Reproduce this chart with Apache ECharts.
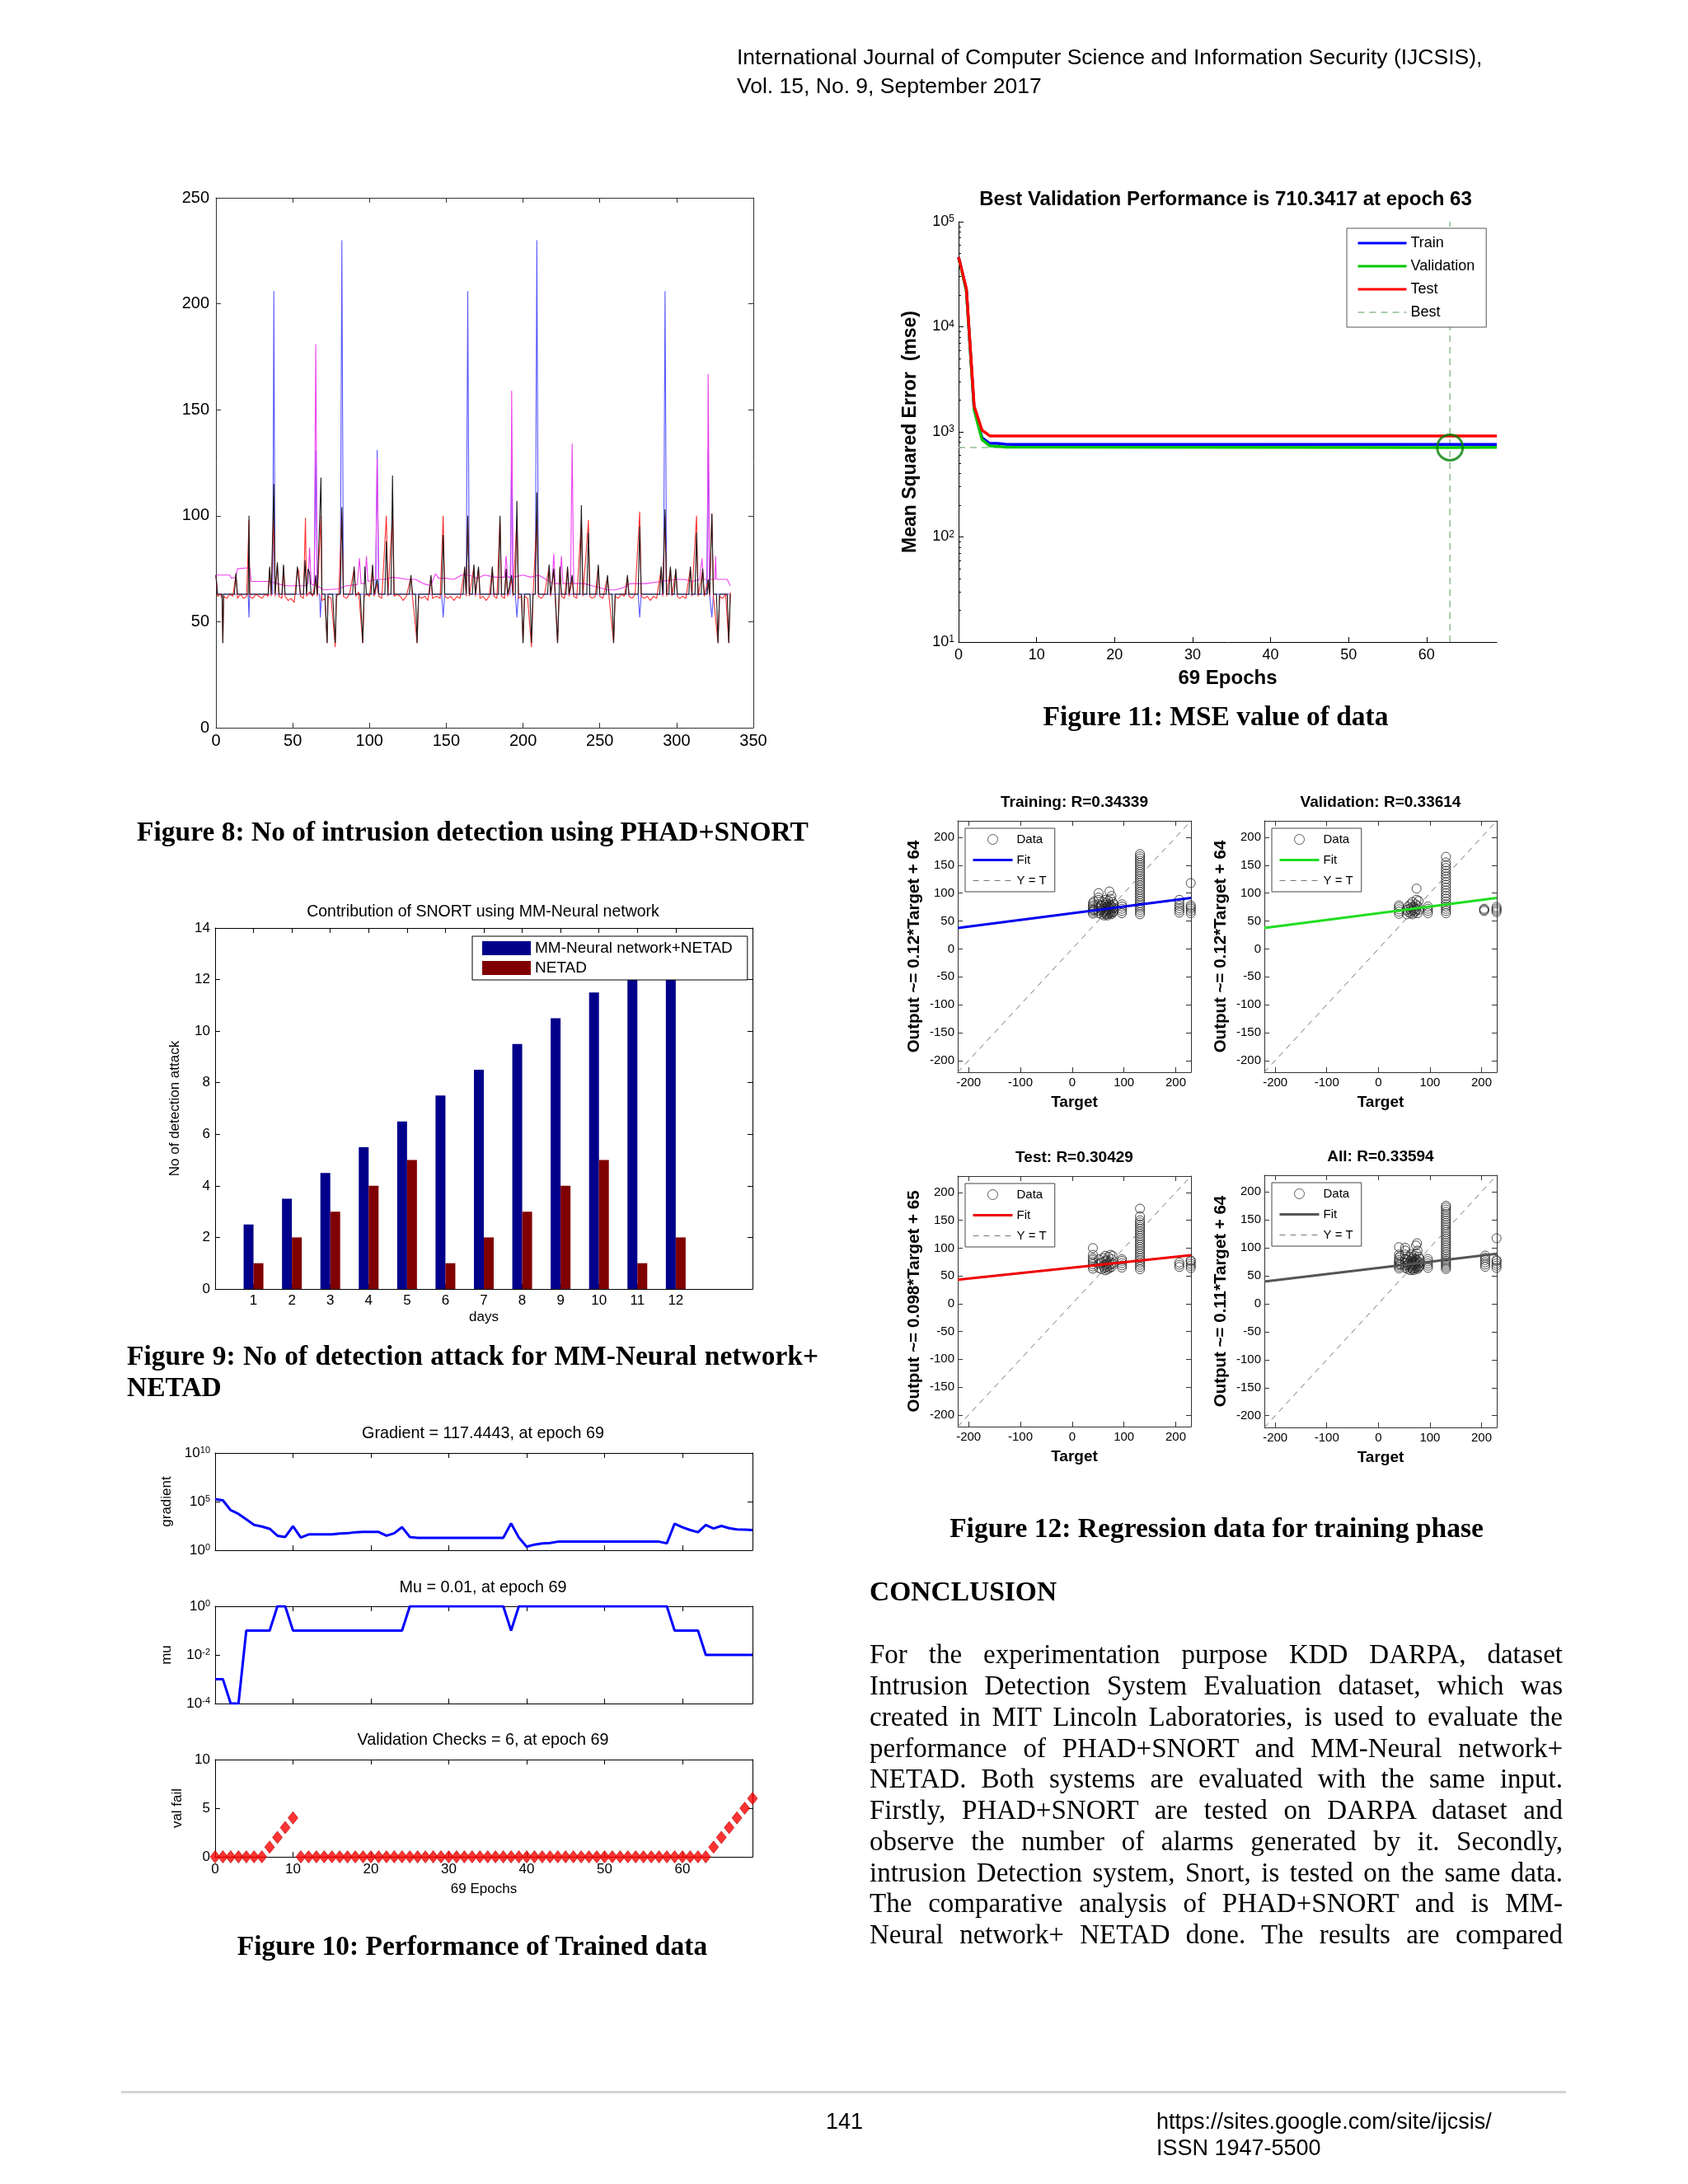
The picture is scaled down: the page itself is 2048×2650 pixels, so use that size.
<!DOCTYPE html>
<html><head><meta charset="utf-8">
<script src="https://cdn.jsdelivr.net/npm/echarts@6/dist/echarts.min.js"></script>
<style>
html,body{margin:0;padding:0;background:#fff;}
#page{position:relative;width:2048px;height:2650px;overflow:hidden;background:#fff;}
#chart{position:absolute;left:0;top:0;width:2048px;height:2650px;}
.t{position:absolute;white-space:nowrap;color:#000;}
.sans{font-family:"Liberation Sans",Arial,sans-serif;}
.serif{font-family:"Liberation Serif","Times New Roman",serif;}
.cap{font-weight:bold;font-size:33.5px;line-height:38px;}
.pl{font-size:33px;line-height:38px;width:841px;text-align:justify;text-align-last:justify;}
</style></head>
<body><div id="page"><div id="chart"></div>
<div class="t sans" style="left:894px;top:52px;font-size:26.5px;line-height:35px;">International Journal of Computer Science and Information Security (IJCSIS),<br>Vol. 15, No. 9, September 2017</div>
<div class="t serif cap" style="left:166px;top:990px;width:806px;text-align:center;">Figure 8: No of intrusion detection using PHAD+SNORT</div>
<div class="t serif cap" style="left:154px;top:1626px;width:839px;text-align:justify;text-align-last:justify;">Figure 9: No of detection attack for MM-Neural network+</div>
<div class="t serif cap" style="left:154px;top:1664px;">NETAD</div>
<div class="t serif cap" style="left:173px;top:2342px;width:800px;text-align:center;">Figure 10: Performance of Trained data</div>
<div class="t serif cap" style="left:1075px;top:850px;width:800px;text-align:center;">Figure 11: MSE value of data</div>
<div class="t serif cap" style="left:1076px;top:1835px;width:800px;text-align:center;">Figure 12: Regression data for training phase</div>
<div class="t serif cap" style="left:1055px;top:1912px;">CONCLUSION</div>
<div class="t serif pl" style="left:1055px;top:1988px;">For the experimentation purpose KDD DARPA, dataset</div>
<div class="t serif pl" style="left:1055px;top:2026px;">Intrusion Detection System Evaluation dataset, which was</div>
<div class="t serif pl" style="left:1055px;top:2064px;">created in MIT Lincoln Laboratories, is used to evaluate the</div>
<div class="t serif pl" style="left:1055px;top:2102px;">performance of PHAD+SNORT and MM-Neural network+</div>
<div class="t serif pl" style="left:1055px;top:2139px;">NETAD. Both systems are evaluated with the same input.</div>
<div class="t serif pl" style="left:1055px;top:2177px;">Firstly, PHAD+SNORT are tested on DARPA dataset and</div>
<div class="t serif pl" style="left:1055px;top:2215px;">observe the number of alarms generated by it. Secondly,</div>
<div class="t serif pl" style="left:1055px;top:2253px;">intrusion Detection system, Snort, is tested on the same data.</div>
<div class="t serif pl" style="left:1055px;top:2290px;">The comparative analysis of PHAD+SNORT and is MM-</div>
<div class="t serif pl" style="left:1055px;top:2328px;">Neural network+ NETAD done. The results are compared</div>
<div style="position:absolute;left:147px;top:2537px;width:1753px;height:3px;background:#d4d4d4;"></div>
<div class="t sans" style="left:1002px;top:2558px;font-size:27px;line-height:32px;">141</div>
<div class="t sans" style="left:1403px;top:2558px;font-size:27px;line-height:32px;">https://sites.google.com/site/ijcsis/<br>ISSN 1947-5500</div>
</div>
<script>
// ================= DATA =================
// Figure 8 : [x, value] at the visible turning points of each trace
const fig8Black = [[0,72],[1,63],[4,63],[4.5,40],[5,63],[12,63],[13,73],[14,63],[21,63],[21.5,100],[22,63],[34,63],[35,76],[36,63],[37,63],[37.7,115],[38.5,63],[40,78],[41,63],[43,63],[44,77],[45,63],[52,63],[53,76],[54,76],[55,63],[57,63],[58,79],[59,63],[60,75],[61,73],[62,63],[64,63],[65,72],[66,63],[67,63],[68.4,118],[69,63],[71,63],[72.4,40],[73,63],[76,63],[77.7,40],[78.5,63],[81,63],[82,104],[83,63],[89,63],[90,76],[91,63],[94,63],[95.6,40],[96.5,63],[97,76],[98,63],[101,63],[102,77],[103,63],[104,63],[105,70],[106,63],[110,63],[111,88],[112,63],[114,63],[115,119],[116,63],[126,63],[127,72],[128,63],[130,63],[131,40],[132,63],[139,63],[140,72],[141,63],[147,63],[148,91],[149,63],[161,63],[162,76],[163,63],[164,100],[165,63],[167,63],[168,77],[169,63],[170,63],[171,76],[172,63],[179,63],[180,76],[181,63],[184,63],[185,100],[186,63],[188,63],[189,75],[190,63],[191,63],[192.6,72],[193.5,63],[195,63],[196,107],[197,63],[199,63],[200,40],[201,63],[204.5,63],[205.5,40],[206.5,63],[208,63],[209,111],[210,63],[216,63],[217,77],[218,63],[219,63],[220,75],[221,63],[222.5,40],[223.5,63],[224,76],[225,63],[228,63],[229,76],[230,63],[231,63],[232,72],[233,63],[237,63],[238,105],[239,63],[241.5,63],[242.6,92],[243.5,63],[248,63],[249,77],[250,63],[254,63],[255,72],[256,63],[258,63],[259,40],[260,63],[267,63],[268,72],[269,63],[275,63],[276,95],[277,63],[289,63],[290,76],[291,63],[292.5,103],[293.5,63],[295,63],[296,76],[297,63],[298.5,63],[299.5,75],[300.5,63],[308,63],[309,76],[310,63],[312,63],[313,92],[314,63],[316,63],[317,75],[318,63],[320,63],[320.6,70],[321.5,63],[323,101],[324,63],[326,63],[327,40],[328,63],[333,63],[334,40],[335,63]];
const fig8Blue = [[0,72],[1,63],[21,63],[21.5,52],[22,63],[37,63],[37.7,206],[38.5,63],[64,63],[65,131],[66,63],[67.5,63],[68,52],[68.8,63],[81,63],[82,230],[83,63],[104,63],[105,131],[106,63],[147,63],[148,52],[149,63],[163,63],[164,206],[165,63],[191.6,63],[192.6,131],[193.5,63],[195,63],[196,52],[197,63],[208,63],[209,230],[210,63],[275,63],[276,52],[277,63],[291.5,63],[292.5,206],[293.5,63],[319.6,63],[320.6,131],[321.5,63],[322,63],[323,52],[324,63],[335,63]];
const fig8Red = [[0,72],[1,62],[3,63],[4,61],[4.5,40],[5,62],[7,61],[9,63],[11,62],[13,72],[14,61],[16,63],[18,61],[20,62],[21.5,98],[22,62],[24,61],[26,63],[28,62],[30,61],[32,63],[34,62],[35,75],[36,62],[37.7,101],[38.5,62],[40,77],[41,62],[43,61],[44,76],[45,62],[47,60],[49,61],[51,59],[53,75],[54,74],[55,62],[57,61],[58.3,99],[59,62],[61,64],[63,62],[65,70],[66,62],[68.4,100],[69,60],[71,61],[72.4,40],[73,62],[75,61],[77.7,38],[78.5,62],[80,63],[82,101],[83,62],[85,61],[87,63],[90,75],[91,62],[93,64],[95.6,40],[96.5,62],[98,63],[100,62],[102,76],[103,62],[105,68],[106,62],[108,61],[111,100],[112,62],[115,101],[116,62],[118,63],[120,62],[122,60],[124,62],[127,71],[128,62],[131,40],[132,62],[134,61],[136,62],[138,60],[140,71],[141,61],[144,62],[146,61],[148,100],[149,62],[151,61],[153,62],[155,60],[157,62],[159,61],[162,75],[163,62],[164,99],[165,62],[168,76],[169,62],[171,75],[172,61],[174,62],[176,60],[178,62],[180,75],[181,62],[183,61],[185,99],[186,62],[188,61],[189,74],[190,62],[192.6,70],[193.5,62],[196,99],[197,61],[199,62],[200,40],[201,62],[203,61],[205.5,38],[206.5,62],[209,100],[210,62],[212,61],[214,63],[217,76],[218,62],[220,74],[221,61],[222.5,40],[223.5,62],[224,75],[225,62],[227,61],[229,75],[230,62],[232,70],[233,62],[235,61],[238,98],[239,62],[242.6,98],[243.5,62],[245,61],[247,62],[249,76],[250,62],[252,61],[255,71],[256,62],[259,40],[260,62],[262,61],[264,63],[266,62],[268,71],[269,62],[271,61],[273,63],[276,102],[277,62],[279,61],[281,62],[283,60],[285,62],[287,61],[290,75],[291,62],[292.5,100],[293.5,62],[296,75],[297,62],[299.5,74],[300.5,62],[302,61],[304,62],[306,61],[309,75],[310,62],[313,100],[314,62],[317,74],[318,62],[320.6,70],[321.5,62],[323,101],[324,62],[327,40],[328,62],[330,61],[332,63],[334,40],[335,64]];
const fig8Magenta = [[0,72],[9,72],[10,70.5],[13,71],[14,75],[22,75.5],[23,69],[35,69],[40,68],[45,67],[58,67],[60,68],[61,85],[62,68],[64,67],[65,181],[66,67],[68,66],[70,65],[80,65.5],[85,67],[92,67.5],[93.5,80],[94.5,68],[97,68],[98,81],[99,69],[104,70],[105,127],[106,70],[110,70],[115,71],[125,70],[130,70],[135,68],[140,67],[143,72.7],[145,70.5],[150,70.5],[155,70],[160,72],[165,72],[170,70.5],[175,72],[182,71],[188,71],[189,81],[190,71],[192,71],[192.6,159],[193.5,71],[200,72],[205,71],[210,72],[215,70],[219,68],[220,82],[221,68],[224,68],[225,81],[226,68],[231,68],[232,134],[233,68],[240,68],[245,67],[250,66],[255,65],[260,65],[265,66],[270,68],[280,68],[290,69],[300,70],[305,70],[310,69],[315,70],[316.6,80],[317.5,70],[320,70],[320.6,167],[321.5,70],[325,70],[325.4,81],[326,70],[333,70],[335,67]];

// Figure 9
const fig9Days = ['1','2','3','4','5','6','7','8','9','10','11','12'];
const fig9Combined = [2.5,3.5,4.5,5.5,6.5,7.5,8.5,9.5,10.5,11.5,12.5,13.5];
const fig9Netad = [1,2,3,4,5,1,2,3,4,5,1,2];

// Figure 10 (epochs 0..69)
const fig10Gradient = [180000,135000,13000,5400,1500,400,275,160,31,23,295,20,42,42,42,42,52,56,71,76,76,76,31,56,234,23,19,19,19,19,19,19,19,19,19,19,19,19,575,20,2.3,3.8,5.1,5.6,7.6,7.6,7.6,7.6,7.6,7.6,7.6,7.6,7.6,7.6,7.6,7.6,7.6,7.6,5.1,537,234,120,71,400,174,316,186,138,129,117.4443];
const fig10Mu = [0.001,0.001,0.0001,0.0001,0.1,0.1,0.1,0.1,1,1,0.1,0.1,0.1,0.1,0.1,0.1,0.1,0.1,0.1,0.1,0.1,0.1,0.1,0.1,0.1,1,1,1,1,1,1,1,1,1,1,1,1,1,0.1,1,1,1,1,1,1,1,1,1,1,1,1,1,1,1,1,1,1,1,1,0.1,0.1,0.1,0.1,0.01,0.01,0.01,0.01,0.01,0.01,0.01];
const fig10ValFail = [0,0,0,0,0,0,0,1,2,3,4,0,0,0,0,0,0,0,0,0,0,0,0,0,0,0,0,0,0,0,0,0,0,0,0,0,0,0,0,0,0,0,0,0,0,0,0,0,0,0,0,0,0,0,0,0,0,0,0,0,0,0,0,0,1,2,3,4,5,6];

// Figure 11 : [epoch, mse]
const fig11Train = [[0,46000],[1,22500],[2,1650],[3,880],[4,775],[5,775],[6,762],[7,758],[69,758]];
const fig11Validation = [[0,45500],[1,22000],[2,1620],[3,845],[4,735],[5,730],[6,715],[63,710.3417],[69,712]];
const fig11Test = [[0,46100],[1,23000],[2,1760],[3,1040],[4,915],[69,915]];
const fig11BestH = [[0,710.3417],[63,710.3417]];
const fig11BestV = [[63,10],[63,100000]];
const fig11BestPoint = [[63,710.3417]];
const fig11MinorTicks = [20,30,40,50,60,70,80,90,200,300,400,500,600,700,800,900,2000,3000,4000,5000,6000,7000,8000,9000,20000,30000,40000,50000,60000,70000,80000,90000];

// Figure 12 : [target, output]
const fig12XTicks = [-200,-100,0,100,200];
const fig12YTicks = [-200,-150,-100,-50,0,50,100,150,200];
const fig12Diagonal = [[-221,-221],[229.5,229.5]];
const fig12TrainFit = [[-221,37.5],[229.5,91.5]];
const fig12ValFit = [[-221,37.5],[229.5,91.5]];
const fig12TestFit = [[-221,43.3],[229.5,87.4]];
const fig12AllFit = [[-221,39.7],[229.5,89.2]];
const fig12TrainPts = [[40,63],[40,66],[40,69],[40,72],[40,75],[40,78],[40,82],[42,70],[42,85],[51,64],[51,68],[51,74],[51,80],[51,88],[51,92],[51,100],[57,62],[57,70],[57,78],[60,65],[60,72],[60,84],[62,60],[62,68],[62,76],[64,64],[64,71],[64,79],[64,88],[66,62],[66,67],[66,74],[66,82],[68,60],[68,70],[68,77],[70,63],[70,69],[70,75],[70,86],[72,66],[72,73],[72,80],[72,103],[74,64],[74,71],[74,78],[74,90],[76,62],[76,68],[76,76],[76,95],[78,65],[78,72],[78,84],[80,67],[80,74],[80,80],[96,64],[96,68],[96,72],[96,76],[96,80],[131,62],[131,66],[131,70],[131,74],[131,78],[131,82],[131,86],[131,90],[131,94],[131,98],[131,102],[131,106],[131,110],[131,114],[131,118],[131,122],[131,126],[131,130],[131,134],[131,138],[131,142],[131,146],[131,150],[131,154],[131,158],[131,162],[131,166],[131,170],[207,65],[207,69],[207,73],[207,77],[207,82],[207,88],[229,64],[229,68],[229,72],[229,75],[229,78],[229,118]];
const fig12ValPts = [[40,63],[40,67],[40,71],[40,75],[40,78],[55,62],[55,70],[58,66],[58,76],[60,72],[62,64],[62,80],[64,68],[64,74],[66,62],[66,84],[68,70],[68,76],[70,65],[70,73],[72,68],[72,80],[74,71],[74,88],[74,108],[76,64],[76,77],[78,70],[78,86],[96,64],[96,68],[96,72],[96,76],[131,64],[131,68],[131,72],[131,76],[131,80],[131,85],[131,90],[131,95],[131,100],[131,105],[131,110],[131,115],[131,120],[131,125],[131,130],[131,135],[131,140],[131,145],[131,150],[131,155],[131,165],[205,68],[205,70],[205,72],[229,66],[229,69],[229,72],[229,75]];
const fig12TestPts = [[40,63],[40,67],[40,71],[40,75],[40,79],[40,82],[40,88],[40,100],[52,64],[52,72],[52,80],[57,62],[57,74],[60,68],[60,82],[62,64],[62,76],[64,60],[64,70],[64,86],[66,66],[66,78],[68,62],[68,72],[70,68],[70,84],[72,64],[72,76],[74,70],[74,88],[76,66],[76,80],[78,72],[78,86],[96,65],[96,69],[96,73],[96,77],[96,80],[131,62],[131,66],[131,70],[131,74],[131,78],[131,82],[131,86],[131,90],[131,94],[131,98],[131,102],[131,106],[131,110],[131,114],[131,118],[131,122],[131,126],[131,130],[131,134],[131,138],[131,142],[131,146],[131,150],[131,157],[131,171],[207,66],[207,70],[207,74],[229,64],[229,68],[229,72],[229,76],[229,78]];
const fig12AllPts = [[40,63],[40,66],[40,69],[40,72],[40,75],[40,78],[40,82],[40,88],[40,101],[42,70],[42,85],[52,64],[52,68],[52,74],[52,80],[52,88],[52,95],[52,100],[57,62],[57,70],[57,78],[60,65],[60,72],[60,84],[62,60],[62,68],[62,76],[64,64],[64,71],[64,79],[64,88],[66,62],[66,67],[66,74],[66,82],[68,60],[68,70],[68,77],[70,63],[70,69],[70,75],[70,86],[72,66],[72,73],[72,80],[73,104],[74,64],[74,71],[74,78],[74,90],[75,108],[76,62],[76,68],[76,76],[76,95],[78,65],[78,72],[78,84],[80,67],[80,74],[80,80],[96,64],[96,68],[96,72],[96,76],[96,80],[131,62],[131,65],[131,68],[131,71],[131,74],[131,77],[131,80],[131,84],[131,88],[131,92],[131,96],[131,100],[131,104],[131,108],[131,112],[131,116],[131,120],[131,124],[131,128],[131,132],[131,136],[131,140],[131,144],[131,148],[131,152],[131,156],[131,160],[131,164],[131,168],[131,172],[131,175],[207,66],[207,70],[207,74],[207,78],[207,82],[207,86],[229,64],[229,68],[229,72],[229,76],[229,78],[229,117]];

// ================= BUILD =================
const FONT = '"Liberation Sans", Arial, sans-serif';
const grids = [], xAxes = [], yAxes = [], series = [], legends = [], graphics = [];

function addGrid(l, t, w, h) { grids.push({ left: l, top: t, width: w, height: h, containLabel: false, outerBoundsMode: 'none', show: false }); return grids.length - 1; }
function mkAxis(o) {
  const lc = o.lineColor || '#000';
  const ax = {
    type: o.type || 'value', gridIndex: o.gi, position: o.pos,
    min: o.min, max: o.max,
    axisLine: { show: o.line !== false, onZero: false, lineStyle: { color: lc, width: 1 } },
    axisTick: { show: true, inside: true, length: o.tickLen || 6, lineStyle: { color: lc, width: 1 } },
    axisLabel: { show: !!o.labels, fontFamily: FONT, fontSize: o.fs || 15, color: '#000', margin: (o.margin != null ? o.margin : 6) },
    splitLine: { show: false }, minorTick: { show: false }, minorSplitLine: { show: false },
    name: o.name || '', nameLocation: 'middle', nameGap: o.nameGap || 30,
    nameTextStyle: { fontFamily: FONT, fontSize: o.nameFs || 16, fontWeight: o.nameWeight || 'normal', color: '#000' },
    silent: true
  };
  if (o.formatter) ax.axisLabel.formatter = o.formatter;
  if (o.rich) ax.axisLabel.rich = o.rich;
  if (o.showMax === false) ax.axisLabel.showMaxLabel = false;
  if (o.interval != null) ax.interval = o.interval;
  if (o.custom) { ax.axisTick.customValues = o.custom; ax.axisLabel.customValues = o.custom; }
  if (o.data) { ax.data = o.data; ax.boundaryGap = false; }
  if (o.catInterval) { ax.axisTick.interval = o.catInterval; ax.axisLabel.interval = o.catInterval; }
  return ax;
}
function addX(o) { xAxes.push(mkAxis(o)); return xAxes.length - 1; }
function addY(o) { yAxes.push(mkAxis(o)); return yAxes.length - 1; }
function addText(text, x, y, fs, weight) {
  graphics.push({ type: 'text', x: x, y: y, silent: true, z: 50,
    style: { text: text, fontFamily: FONT, fontSize: fs, fontWeight: weight || 'normal', fill: '#000', align: 'center', verticalAlign: 'middle', textAlign: 'center', textVerticalAlign: 'middle' } });
}
function supFmt(base, sup) {
  return {
    formatter: function (v) { const e = Math.round(Math.log10(v)); return '{b|10}{s|' + e + '}'; },
    rich: {
      b: { fontFamily: FONT, fontSize: base, color: '#000', lineHeight: base, verticalAlign: 'bottom' },
      s: { fontFamily: FONT, fontSize: sup, color: '#000', lineHeight: sup, verticalAlign: 'top', padding: [0, 0, base - 4, 0] }
    }
  };
}
const lineBase = { type: 'line', showSymbol: false, symbol: 'none', silent: true, animation: false };
const noSym = function (name, w) { return { name: name, itemStyle: { opacity: 0 }, lineStyle: { width: w || 1 } }; };

// ---------- Figure 8 ----------
{
  const gi = addGrid(262, 240, 652, 643);
  const lc = '#333';
  const xi = addX({ gi, pos: 'bottom', min: 0, max: 350, interval: 50, labels: true, fs: 20, margin: 6, lineColor: lc });
  addX({ gi, pos: 'top', min: 0, max: 350, interval: 50, lineColor: lc });
  const yi = addY({ gi, pos: 'left', min: 0, max: 250, interval: 50, labels: true, fs: 20, margin: 8, lineColor: lc });
  addY({ gi, pos: 'right', min: 0, max: 250, interval: 50, lineColor: lc });
  series.push(Object.assign({}, lineBase, { xAxisIndex: xi, yAxisIndex: yi, data: fig8Blue, lineStyle: { color: '#5858ff', width: 1.1 } }));
  series.push(Object.assign({}, lineBase, { xAxisIndex: xi, yAxisIndex: yi, data: fig8Magenta, lineStyle: { color: '#f040f0', width: 1.1 } }));
  series.push(Object.assign({}, lineBase, { xAxisIndex: xi, yAxisIndex: yi, data: fig8Red, lineStyle: { color: '#ff3030', width: 1.1 } }));
  series.push(Object.assign({}, lineBase, { xAxisIndex: xi, yAxisIndex: yi, data: fig8Black, lineStyle: { color: '#1a1a1a', width: 1.1 } }));
}

// ---------- Figure 9 ----------
{
  const gi = addGrid(261, 1126, 652, 438);
  const cats = ['0'].concat(fig9Days, ['13', '14']);
  const show = function (i) { return i >= 1 && i <= 12; };
  const xi = addX({ gi, type: 'category', pos: 'bottom', data: cats, catInterval: show, labels: true, fs: 17, margin: 6, name: 'days', nameGap: 26, nameFs: 17 });
  addX({ gi, type: 'category', pos: 'top', data: cats, catInterval: show });
  const yi = addY({ gi, pos: 'left', min: 0, max: 14, interval: 2, labels: true, fs: 17, margin: 6, name: 'No of detection attack', nameGap: 40, nameFs: 17 });
  addY({ gi, pos: 'right', min: 0, max: 14, interval: 2 });
  series.push({ type: 'bar', name: 'MM-Neural network+NETAD', xAxisIndex: xi, yAxisIndex: yi, data: [null].concat(fig9Combined, [null, null]), barWidth: 12, barGap: '0%', itemStyle: { color: '#00008b' }, silent: true, animation: false });
  series.push({ type: 'bar', name: 'NETAD', xAxisIndex: xi, yAxisIndex: yi, data: [null].concat(fig9Netad, [null, null]), barWidth: 12, barGap: '0%', itemStyle: { color: '#800000' }, silent: true, animation: false });
  legends.push({ left: 573, top: 1136, orient: 'vertical', icon: 'rect', itemWidth: 59, itemHeight: 17, itemGap: 5, padding: [5, 18, 5, 12], borderColor: '#000', borderWidth: 1, backgroundColor: '#fff', selectedMode: false, z: 20,
    textStyle: { fontFamily: FONT, fontSize: 19, color: '#000' }, data: ['MM-Neural network+NETAD', 'NETAD'] });
  addText('Contribution of SNORT using MM-Neural network', 586, 1107, 19.5);
}

// ---------- Figure 10 ----------
{
  const epochs = fig10Gradient.map(function (_, i) { return i; });
  const sf1 = supFmt(17, 11);
  // gradient
  let gi = addGrid(261, 1763, 652, 118);
  let xi = addX({ gi, pos: 'bottom', min: 0, max: 69, interval: 10 });
  addX({ gi, pos: 'top', min: 0, max: 69, interval: 10 });
  let yi = addY({ gi, type: 'log', pos: 'left', min: 1, max: 1e10, interval: 5, labels: true, margin: 6, formatter: sf1.formatter, rich: sf1.rich, name: 'gradient', nameGap: 50, nameFs: 17 });
  addY({ gi, type: 'log', pos: 'right', min: 1, max: 1e10, interval: 5 });
  series.push(Object.assign({}, lineBase, { xAxisIndex: xi, yAxisIndex: yi, data: epochs.map(function (e) { return [e, fig10Gradient[e]]; }), lineStyle: { color: '#0000ff', width: 3 } }));
  addText('Gradient = 117.4443, at epoch 69', 586, 1740, 19.8);
  // mu
  gi = addGrid(261, 1949, 652, 118);
  xi = addX({ gi, pos: 'bottom', min: 0, max: 69, interval: 10 });
  addX({ gi, pos: 'top', min: 0, max: 69, interval: 10 });
  yi = addY({ gi, type: 'log', pos: 'left', min: 0.0001, max: 1, interval: 2, labels: true, margin: 6, formatter: sf1.formatter, rich: sf1.rich, name: 'mu', nameGap: 50, nameFs: 17 });
  addY({ gi, type: 'log', pos: 'right', min: 0.0001, max: 1, interval: 2 });
  series.push(Object.assign({}, lineBase, { xAxisIndex: xi, yAxisIndex: yi, data: epochs.map(function (e) { return [e, fig10Mu[e]]; }), lineStyle: { color: '#0000ff', width: 3 } }));
  addText('Mu = 0.01, at epoch 69', 586, 1927, 19.8);
  // validation checks
  gi = addGrid(261, 2135, 652, 118);
  xi = addX({ gi, pos: 'bottom', min: 0, max: 69, interval: 10, labels: true, fs: 17, margin: 7, showMax: false, name: '69 Epochs', nameGap: 31, nameFs: 17 });
  addX({ gi, pos: 'top', min: 0, max: 69, interval: 10 });
  yi = addY({ gi, pos: 'left', min: 0, max: 10, interval: 5, labels: true, fs: 17, margin: 6, name: 'val fail', nameGap: 37, nameFs: 17 });
  addY({ gi, pos: 'right', min: 0, max: 10, interval: 5 });
  series.push({ type: 'scatter', xAxisIndex: xi, yAxisIndex: yi, data: epochs.map(function (e) { return [e, fig10ValFail[e]]; }), symbol: 'diamond', symbolSize: [12, 15], itemStyle: { color: '#ff0000', borderColor: '#b00000', borderWidth: 0.8 }, silent: true, animation: false, clip: false });
  addText('Validation Checks = 6, at epoch 69', 586, 2112, 19.8);
}

// ---------- Figure 11 ----------
{
  const gi = addGrid(1163, 269, 653, 510);
  const sf = supFmt(18, 12);
  const xi = addX({ gi, pos: 'bottom', min: 0, max: 69, interval: 10, labels: true, fs: 18, margin: 7, showMax: false, name: '69 Epochs', nameGap: 32, nameFs: 24, nameWeight: 'bold' });
  const yi = addY({ gi, type: 'log', pos: 'left', min: 10, max: 100000, interval: 1, labels: true, margin: 5, formatter: sf.formatter, rich: sf.rich, name: 'Mean Squared Error  (mse)', nameGap: 47, nameFs: 23, nameWeight: 'bold' });
  // minor log ticks (no line, no labels)
  addY({ gi, type: 'log', pos: 'left', min: 10, max: 100000, custom: fig11MinorTicks, tickLen: 3, line: false });
  const dash = { color: '#8fbf8f', width: 1.5, type: [8, 6] };
  series.push(Object.assign({}, lineBase, { name: 'Best', xAxisIndex: xi, yAxisIndex: yi, data: fig11BestH, lineStyle: dash }));
  series.push(Object.assign({}, lineBase, { name: 'Best', xAxisIndex: xi, yAxisIndex: yi, data: fig11BestV, lineStyle: dash }));
  series.push(Object.assign({}, lineBase, { name: 'Train', xAxisIndex: xi, yAxisIndex: yi, data: fig11Train, lineStyle: { color: '#0000ff', width: 3.5 } }));
  series.push(Object.assign({}, lineBase, { name: 'Validation', xAxisIndex: xi, yAxisIndex: yi, data: fig11Validation, lineStyle: { color: '#00c800', width: 3.5 } }));
  series.push(Object.assign({}, lineBase, { name: 'Test', xAxisIndex: xi, yAxisIndex: yi, data: fig11Test, lineStyle: { color: '#ff0000', width: 3.5 } }));
  series.push({ type: 'scatter', xAxisIndex: xi, yAxisIndex: yi, data: fig11BestPoint, symbol: 'circle', symbolSize: 31, itemStyle: { color: 'rgba(0,0,0,0)', borderColor: '#008000', borderWidth: 3 }, silent: true, animation: false, clip: false, z: 5 });
  legends.push({ left: 1634, top: 277, orient: 'vertical', itemWidth: 59, itemHeight: 14, itemGap: 10, padding: [9, 14, 9, 12], borderColor: '#555', borderWidth: 1, backgroundColor: '#fff', selectedMode: false, z: 20,
    textStyle: { fontFamily: FONT, fontSize: 18, color: '#000' }, data: [noSym('Train', 3), noSym('Validation', 3), noSym('Test', 3), noSym('Best', 1.5)] });
  addText('Best Validation Performance is 710.3417 at epoch 63', 1487, 242, 24, 'bold');
}

// ---------- Figure 12 ----------
function regPanel(p) {
  const gi = addGrid(p.left, p.top, p.w, p.h);
  const lc = '#333';
  const xi = addX({ gi, pos: 'bottom', min: -221, max: 229.5, custom: fig12XTicks, labels: true, fs: 15, margin: 5, name: 'Target', nameGap: 27, nameFs: 19, nameWeight: 'bold', lineColor: lc });
  addX({ gi, pos: 'top', min: -221, max: 229.5, custom: fig12XTicks, lineColor: lc });
  const yi = addY({ gi, pos: 'left', min: -221, max: 229.5, custom: fig12YTicks, labels: true, fs: 15, margin: 4, name: p.yName, nameGap: 42, nameFs: 20.5, nameWeight: 'bold', lineColor: lc });
  addY({ gi, pos: 'right', min: -221, max: 229.5, custom: fig12YTicks, lineColor: lc });
  series.push(Object.assign({}, lineBase, { name: 'Y = T' + p.k, xAxisIndex: xi, yAxisIndex: yi, data: fig12Diagonal, lineStyle: { color: '#777', width: 1, type: [7, 6] } }));
  series.push({ type: 'scatter', name: 'Data' + p.k, xAxisIndex: xi, yAxisIndex: yi, data: p.pts, symbol: 'circle', symbolSize: 11, itemStyle: { color: 'rgba(255,255,255,0)', borderColor: '#222', borderWidth: 1 }, silent: true, animation: false });
  series.push(Object.assign({}, lineBase, { name: 'Fit' + p.k, xAxisIndex: xi, yAxisIndex: yi, data: p.fit, lineStyle: { color: p.color, width: 3 } }));
  legends.push({ left: p.left + 9, top: p.top + 9, orient: 'vertical', itemWidth: 48, itemHeight: 12, itemGap: 10, padding: [6, 10, 6, 8], borderColor: '#444', borderWidth: 1, backgroundColor: '#fff', selectedMode: false, z: 20,
    textStyle: { fontFamily: FONT, fontSize: 15, color: '#000' },
    formatter: function (n) { return n.replace(/[1-4]$/, ''); },
    data: [{ name: 'Data' + p.k, icon: 'circle', itemStyle: { color: 'rgba(255,255,255,0)', borderColor: '#333', borderWidth: 1 } }, noSym('Fit' + p.k, 3), noSym('Y = T' + p.k, 1)] });
  addText(p.title, p.left + p.w / 2, p.top - 22, 19, 'bold');
}
regPanel({ k: 1, left: 1162, top: 996, w: 283, h: 305, pts: fig12TrainPts, fit: fig12TrainFit, color: '#0000ee', yName: 'Output ~= 0.12*Target + 64', title: 'Training: R=0.34339' });
regPanel({ k: 2, left: 1534, top: 996, w: 282, h: 305, pts: fig12ValPts, fit: fig12ValFit, color: '#22dd22', yName: 'Output ~= 0.12*Target + 64', title: 'Validation: R=0.33614' });
regPanel({ k: 3, left: 1162, top: 1427, w: 283, h: 304, pts: fig12TestPts, fit: fig12TestFit, color: '#ee0000', yName: 'Output ~= 0.098*Target + 65', title: 'Test: R=0.30429' });
regPanel({ k: 4, left: 1534, top: 1426, w: 282, h: 306, pts: fig12AllPts, fit: fig12AllFit, color: '#555555', yName: 'Output ~= 0.11*Target + 64', title: 'All: R=0.33594' });

const chart = echarts.init(document.getElementById('chart'), null, { renderer: 'canvas', width: 2048, height: 2650 });
chart.setOption({
  animation: false,
  backgroundColor: 'transparent',
  textStyle: { fontFamily: FONT },
  grid: grids, xAxis: xAxes, yAxis: yAxes, series: series, legend: legends,
  graphic: { elements: graphics }
});
</script>
</body></html>
